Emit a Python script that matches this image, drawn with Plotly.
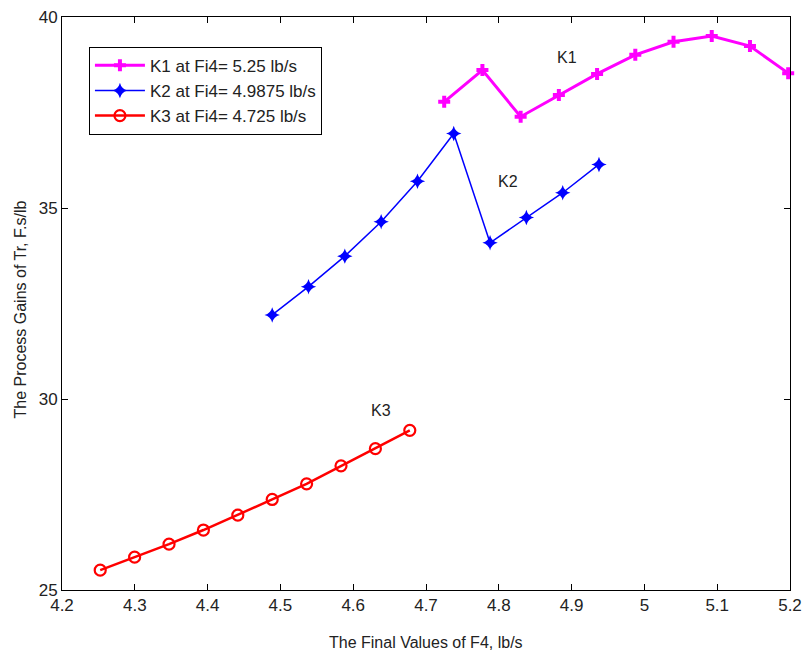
import plotly.graph_objects as go

# Final values of F4 (lb/s) for each inlet-flow case
k1_x = [4.725, 4.7775, 4.83, 4.8825, 4.935, 4.9875, 5.04, 5.0925, 5.145, 5.1975]
k2_x = [4.48875, 4.5386, 4.5885, 4.6384, 4.6883, 4.7381, 4.788, 4.8379, 4.8878, 4.9376]
k3_x = [4.2525, 4.29975, 4.347, 4.39425, 4.4415, 4.48875, 4.536, 4.58325, 4.6305, 4.67775]

# Process gains of Tr (F.s/lb)
k1_y = [37.78, 38.61, 37.39, 37.96, 38.51, 39.01, 39.35, 39.50, 39.24, 38.53]
k2_y = [32.20, 32.94, 33.74, 34.64, 35.70, 36.95, 34.09, 34.75, 35.40, 36.14]
k3_y = [25.52, 25.86, 26.20, 26.57, 26.96, 27.37, 27.78, 28.25, 28.70, 29.18]

names = ["K1 at Fi4= 5.25 lb/s", "K2 at Fi4= 4.9875 lb/s", "K3 at Fi4= 4.725 lb/s"]
curve_labels = ["K1", "K2", "K3"]
label_x = [4.893, 4.812, 4.638]
label_y = [38.95, 35.69, 29.71]

x_ticks = [4.2, 4.3, 4.4, 4.5, 4.6, 4.7, 4.8, 4.9, 5.0, 5.1, 5.2]
x_tick_text = ["4.2", "4.3", "4.4", "4.5", "4.6", "4.7", "4.8", "4.9", "5", "5.1", "5.2"]
y_ticks = [25, 30, 35, 40]

x_title = "The Final Values of F4, lb/s"
y_title = "The Process Gains of Tr, F.s/lb"

font_family = "Liberation Sans, Arial, sans-serif"
text_color = "#222222"

fig = go.Figure()
fig.add_trace(go.Scatter(
    x=k1_x, y=k1_y, mode="lines+markers", name=names[0],
    line=dict(color="#FF00FF", width=3),
    marker=dict(symbol="cross", size=10, color="#FF00FF"),
    cliponaxis=False,
))
fig.add_trace(go.Scatter(
    x=k2_x, y=k2_y, mode="lines+markers", name=names[1],
    line=dict(color="#0000FF", width=1.5),
    marker=dict(symbol="star-diamond", size=11, color="#0000FF"),
))
fig.add_trace(go.Scatter(
    x=k3_x, y=k3_y, mode="lines+markers", name=names[2],
    line=dict(color="#FF0000", width=2.5),
    marker=dict(symbol="circle-open", size=11, color="#FF0000", line=dict(width=2.2)),
))

# Curve name labels inside the axes
for t, lx, ly in zip(curve_labels, label_x, label_y):
    fig.add_annotation(x=lx, y=ly, text=t, showarrow=False,
                       font=dict(size=16, color=text_color, family=font_family))

# Axis titles placed in pixel terms relative to the plot area
fig.add_annotation(text=x_title, xref="paper", yref="paper", x=0.5, y=0,
                   xanchor="center", yanchor="middle", yshift=-52, showarrow=False,
                   font=dict(size=16, color=text_color, family=font_family))
fig.add_annotation(text=y_title, xref="paper", yref="paper", x=0, y=0.5,
                   xanchor="center", yanchor="middle", xshift=-42, yshift=-6,
                   textangle=-90, showarrow=False,
                   font=dict(size=16, color=text_color, family=font_family))

axis_common = dict(
    showline=True, linecolor="black", linewidth=1, mirror="ticks",
    ticks="inside", ticklen=6, tickcolor="black", showgrid=False,
    zeroline=False, automargin=False,
    tickfont=dict(size=17, color=text_color, family=font_family),
)

fig.update_layout(
    width=803, height=653,
    margin=dict(l=62, r=13, t=17, b=63),
    paper_bgcolor="white", plot_bgcolor="white",
    font=dict(family=font_family, color="black"),
    xaxis=dict(range=[4.2, 5.2], tickvals=x_ticks, ticktext=x_tick_text, **axis_common),
    yaxis=dict(range=[25, 40], tickvals=y_ticks, **axis_common),
    legend=dict(x=0.037, y=0.948, xanchor="left", yanchor="top",
                bgcolor="white", bordercolor="black", borderwidth=1,
                font=dict(size=17, family=font_family, color=text_color),
                tracegroupgap=0, itemwidth=50),
    showlegend=True,
)

fig.write_html("out.html")
